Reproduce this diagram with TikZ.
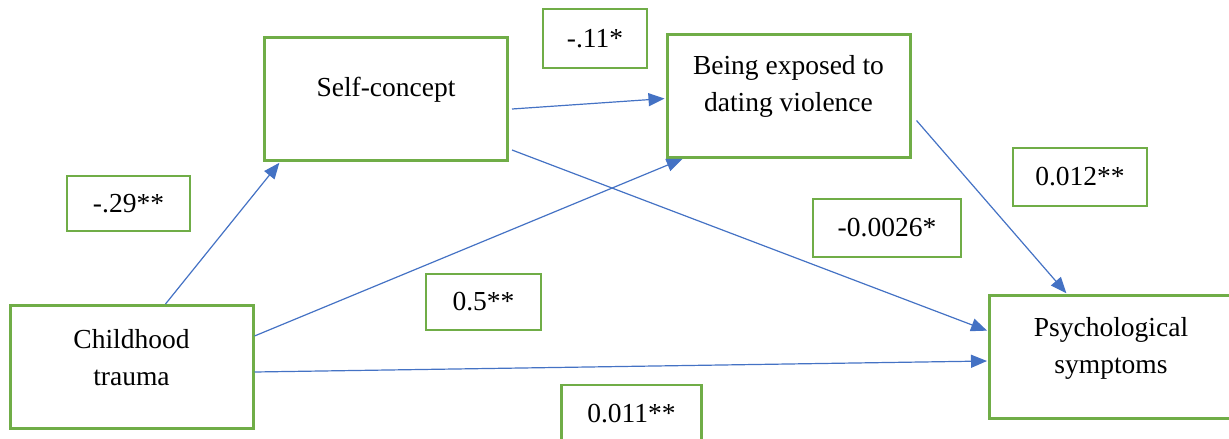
\documentclass[tikz,border=0pt]{standalone}
\usepackage{fontspec}
\setmainfont{Liberation Serif}
\usetikzlibrary{arrows.meta,calc}
\definecolor{boxgreen}{HTML}{70AD47}
\definecolor{arrowblue}{HTML}{4472C4}
\tikzset{
  varbox/.style={draw=boxgreen, line width=3pt, minimum width=243pt, minimum height=123pt, inner sep=0pt},
  coefbox/.style={draw=boxgreen, line width=2.6pt, inner sep=0pt, font=\fontsize{27.5}{33}\selectfont},
  path/.style={arrowblue, line width=1.2pt, -{Triangle[length=16pt,width=13pt]}, shorten >=1pt}
}
\begin{document}
\begin{tikzpicture}[x=1pt, y=-1pt, every label/.style={align=center, font=\fontsize{27.5}{37}\selectfont, yshift=9pt}]
\useasboundingbox (0,0) rectangle (1229,439);

% variables
\node[varbox, label={center:Childhood\\trauma}] (trauma) at (131.5,367) {};
\node[varbox, label={center:Self-concept}] (self) at (386,99) {};
\node[varbox, label={center:Being exposed to\\dating violence}] (expo) at (788.5,95.5) {};
\node[varbox, label={center:Psychological\\symptoms}] (psych) at (1111,357) {};

% coefficients
\node[coefbox, minimum width=123pt, minimum height=55pt] (c29) at (128.5,203.5) {-.29**};
\node[coefbox, minimum width=104pt, minimum height=59pt] (c11) at (595,38.5) {-.11*};
\node[coefbox, minimum width=134pt, minimum height=58pt] (c012) at (1080,177) {0.012**};
\node[coefbox, minimum width=148pt, minimum height=58pt] (c0026) at (887,228) {-0.0026*};
\node[coefbox, minimum width=115pt, minimum height=56pt] (c05) at (483.5,302) {0.5**};
\node[coefbox, minimum width=140pt, minimum height=58pt] (c011) at (631.5,414) {0.011**};

% paths
\draw[path] ($(trauma.north west)+(157,0)$) -- ($(self.south west)+(17,0)$);
\draw[path] ($(trauma.north east)+(0,32)$) -- ($(expo.south west)+(18,0)$);
\draw[path] ($(trauma.north east)+(0,68)$) -- ($(psych.north west)+(0,67)$);
\draw[path] ($(self.north east)+(3,73)$) -- ($(expo.north west)+(0,66)$);
\draw[path] ($(self.north east)+(3,114)$) -- ($(psych.north west)+(0,37)$);
\draw[path] ($(expo.north east)+(5,88)$) -- ($(psych.north west)+(79,0)$);
\end{tikzpicture}
\end{document}
